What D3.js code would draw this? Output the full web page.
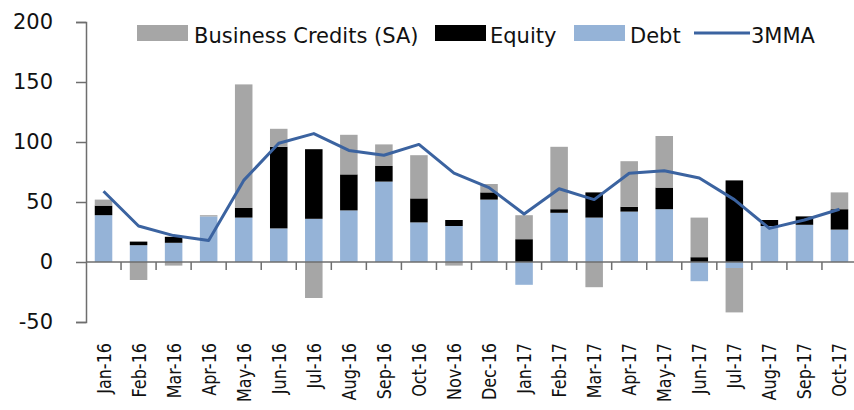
<!DOCTYPE html>
<html>
<head>
<meta charset="utf-8">
<script src="https://cdn.jsdelivr.net/npm/d3@7"></script>
<style>
  body { margin: 0; background: #fff; }
  svg { display: block; font-family: "DejaVu Sans", Verdana, sans-serif; }
</style>
</head>
<body>
<svg id="chart" width="854" height="410"></svg>
<script>
// data
var months = ["Jan-16","Feb-16","Mar-16","Apr-16","May-16","Jun-16","Jul-16","Aug-16","Sep-16","Oct-16","Nov-16","Dec-16",
              "Jan-17","Feb-17","Mar-17","Apr-17","May-17","Jun-17","Jul-17","Aug-17","Sep-17","Oct-17"];
var debt    = [39, 14, 16, 38, 37, 28, 36, 43, 67, 33, 30, 52, -19, 41, 37, 42, 44, -16, -5, 30, 31, 27];
var equity  = [ 8,  3,  5,  0,  8, 68, 58, 30, 13, 20,  5,  6,  19,  3, 21,  4, 18,   4, 68,  5,  7, 17];
var credits = [ 5,-15, -3,  1,103, 15,-30, 33, 18, 36, -3,  7,  20, 52,-21, 38, 43,  33,-37,  0,  0, 14];
var mma3    = [59, 30, 22, 18, 68, 99,107, 93, 89, 98, 74, 62,  40, 61, 52, 74, 76,  70, 52, 28, 35, 44];
var yTicks  = [-50, 0, 50, 100, 150, 200];

// options
var pad = {left: 86, right: 857, top: 22, bottom: 322};
var colors = {credits: "#a6a6a6", equity: "#000000", debt: "#95b3d7", line: "#3b63a0"};
var fontSize = 21;

var svg = d3.select("#chart");

var rows = months.map(function(m, i) {
  return {month: m, debt: debt[i], equity: equity[i], credits: credits[i], mma: mma3[i]};
});

var x = d3.scaleBand().domain(months).range([pad.left, pad.right]).paddingInner(0.5).paddingOuter(0.25);
var xb = d3.scaleBand().domain(months).range([pad.left, pad.right]);
var y = d3.scaleLinear().domain([-50, 200]).range([pad.bottom, pad.top]);

var stack = d3.stack().keys(["debt", "equity", "credits"]).offset(d3.stackOffsetDiverging);
var series = stack(rows);

// bars
svg.append("g").selectAll("g")
    .data(series)
  .enter().append("g")
    .attr("fill", function(d) { return colors[d.key]; })
  .selectAll("rect")
    .data(function(d) { return d; })
  .enter().append("rect")
    .attr("x", function(d) { return x(d.data.month); })
    .attr("width", x.bandwidth())
    .attr("y", function(d) { return y(Math.max(d[0], d[1])); })
    .attr("height", function(d) { return Math.abs(y(d[0]) - y(d[1])); });

// y axis
var yAxis = svg.append("g")
    .attr("transform", "translate(" + pad.left + ",0)")
    .call(d3.axisLeft(y).tickValues(yTicks).tickSize(10).tickPadding(23)
      .tickFormat(function(d) { return String(d); }));
yAxis.selectAll("path, line").attr("stroke", "#6e6e6e").attr("stroke-width", 1.5);
yAxis.selectAll("text").attr("font-size", fontSize).attr("fill", "#111").style("font-family", "DejaVu Sans");

// zero line with small ticks at category edges
var zero = svg.append("g");
zero.append("line")
    .attr("x1", pad.left).attr("x2", pad.right)
    .attr("y1", y(0)).attr("y2", y(0))
    .attr("stroke", "#6e6e6e").attr("stroke-width", 1.5);
zero.selectAll("line.tk")
    .data(months.slice(1))
  .enter().append("line")
    .attr("class", "tk")
    .attr("x1", function(d) { return xb(d); }).attr("x2", function(d) { return xb(d); })
    .attr("y1", y(0)).attr("y2", y(0) + 8)
    .attr("stroke", "#6e6e6e").attr("stroke-width", 1.5);

// x labels, rotated
svg.append("g").selectAll("text")
    .data(months)
  .enter().append("text")
    .attr("transform", function(d) {
      return "translate(" + (xb(d) + xb.bandwidth() / 2) + ",343) rotate(-90) scale(0.8,1)";
    })
    .attr("text-anchor", "end")
    .attr("dy", "0.35em")
    .attr("font-size", 20)
    .attr("fill", "#111")
    .text(function(d) { return d; });

// 3MMA line
var line = d3.line()
    .x(function(d) { return xb(d.month) + xb.bandwidth() / 2; })
    .y(function(d) { return y(d.mma); });
svg.append("path")
    .datum(rows)
    .attr("fill", "none")
    .attr("stroke", colors.line)
    .attr("stroke-width", 3)
    .attr("stroke-linejoin", "round")
    .attr("d", line);

// legend
var legendItems = [
  {label: "Business Credits (SA)", key: "credits", x: 137, tx: 194, type: "rect"},
  {label: "Equity", key: "equity", x: 435, tx: 490, type: "rect"},
  {label: "Debt", key: "debt", x: 574, tx: 630, type: "rect"},
  {label: "3MMA", key: "line", x: 694, tx: 751, type: "line"}
];
var legend = svg.append("g");
legendItems.forEach(function(it) {
  if (it.type === "rect") {
    legend.append("rect")
        .attr("x", it.x).attr("y", 25)
        .attr("width", 51).attr("height", 16)
        .attr("fill", colors[it.key]);
  } else {
    legend.append("line")
        .attr("x1", it.x).attr("x2", it.x + 56)
        .attr("y1", 33).attr("y2", 33)
        .attr("stroke", colors.line).attr("stroke-width", 3);
  }
  legend.append("text")
      .attr("x", it.tx).attr("y", 43)
      .attr("font-size", fontSize)
      .attr("fill", "#111")
      .text(it.label);
});
</script>
</body>
</html>
